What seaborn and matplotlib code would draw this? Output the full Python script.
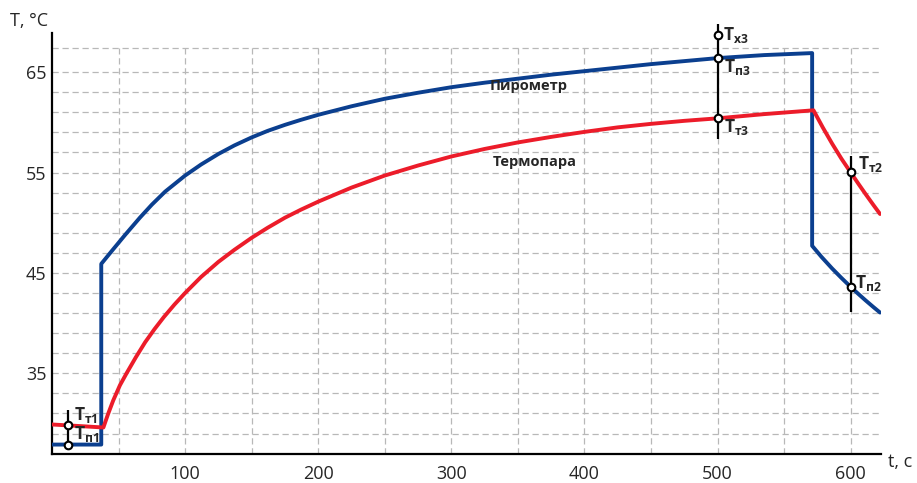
"""
График нагрева: пирометр и термопара, с контрольными точками.
"""
import matplotlib
matplotlib.use("Agg")
import matplotlib.pyplot as plt
import pandas as pd
import seaborn as sns

# Пирометр (синяя кривая)
pyro_t = [0, 37, 37, 45, 55, 66, 75, 85, 100, 112, 125, 137, 150, 162, 175,
          187, 200, 225, 250, 275, 300, 325, 350, 375, 400, 425, 450, 475,
          500, 535, 571, 571, 578, 586, 593, 600, 606, 611, 617, 622]
pyro_T = [27.9, 27.9, 45.9, 47.2, 48.8, 50.5, 51.8, 53.1, 54.7, 55.8, 56.85,
          57.7, 58.5, 59.15, 59.75, 60.25, 60.75, 61.6, 62.35, 62.95, 63.5,
          63.95, 64.35, 64.75, 65.1, 65.45, 65.8, 66.1, 66.4, 66.7, 66.9,
          47.7, 46.6, 45.44, 44.5, 43.6, 42.87, 42.28, 41.6, 41.05]

# Термопара (красная кривая)
thermo_t = [0, 20, 38.6, 42, 46, 51, 56, 63, 70, 77, 84, 92, 100, 112, 125,
            137, 150, 162, 175, 187, 200, 225, 250, 275, 300, 325, 350, 375,
            400, 425, 450, 475, 500, 535, 572, 579, 586, 593, 600, 606, 611,
            617, 622]
thermo_T = [29.9, 29.75, 29.6, 30.9, 32.3, 33.8, 35.0, 36.6, 38.1, 39.4,
            40.6, 41.85, 43.0, 44.6, 46.1, 47.3, 48.5, 49.5, 50.5, 51.3,
            52.1, 53.5, 54.7, 55.7, 56.6, 57.35, 58.0, 58.55, 59.05, 59.5,
            59.85, 60.15, 60.4, 60.82, 61.2, 59.49, 57.88, 56.38, 55.0,
            53.83, 52.88, 51.77, 50.87]

x_ticks = [100, 200, 300, 400, 500, 600]
y_ticks = [35, 45, 55, 65]
grid_x = list(range(50, 601, 50))
grid_y = list(range(29, 66, 2)) + [67.4]

# Вертикальные отрезки замеров: t, T от, T до
marks_t = [12, 500, 600]
marks_lo = [27.4, 58.3, 41.1]
marks_hi = [31.3, 69.8, 56.6]

# Контрольные точки
points_t = [12, 12, 500, 500, 500, 600, 600]
points_T = [29.85, 27.86, 68.7, 66.4, 60.4, 55.1, 43.6]
points_sub = ["т1", "п1", "х3", "п3", "т3", "т2", "п2"]
# смещения подписей в пикселях
points_off = [(6, 10), (6, 11), (5, 0), (6, -9), (6, -9), (7, 8), (4, 4)]

BLUE = "#0b3f8f"
RED = "#ec1c2a"

sns.set_style("white")
plt.rcParams["font.family"] = ["Open Sans", "DejaVu Sans"]
plt.rcParams["mathtext.fontset"] = "custom"
plt.rcParams["mathtext.bf"] = "Open Sans:bold"
plt.rcParams["mathtext.rm"] = "Open Sans"

fig = plt.figure(figsize=(9.17, 4.83), dpi=100)
ax = fig.add_axes([52 / 917, 1 - 453.6 / 483, (880.7 - 52) / 917, (453.6 - 33) / 483])

ax.set_xlim(0, 622.5)
ax.set_ylim(27, 68.9)

# сетка
ax.hlines(grid_y, 0, 622.5, colors="#b8b8b8", linestyles=(0, (5, 3)), linewidth=0.9, zorder=1)
ax.vlines(grid_x, 27, 67.4, colors="#b8b8b8", linestyles=(0, (5, 3)), linewidth=0.9, zorder=1)

pyro = pd.DataFrame({"t": pyro_t, "T": pyro_T})
thermo = pd.DataFrame({"t": thermo_t, "T": thermo_T})
sns.lineplot(data=pyro, x="t", y="T", sort=False, estimator=None, color=BLUE,
             linewidth=2.8, ax=ax, zorder=3)
sns.lineplot(data=thermo, x="t", y="T", sort=False, estimator=None, color=RED,
             linewidth=2.8, ax=ax, zorder=3)

ax.vlines(marks_t, marks_lo, marks_hi, colors="black", linewidth=1.6, zorder=4, clip_on=False)

pts = pd.DataFrame({"t": points_t, "T": points_T})
sns.scatterplot(data=pts, x="t", y="T", s=30, color="white", edgecolor="black",
                linewidth=1.5, ax=ax, zorder=5, clip_on=False)

for t, T, sub, off in zip(points_t, points_T, points_sub, points_off):
    ax.annotate(r"$\mathbf{T}_{\mathbf{" + sub + "}}$", (t, T), xytext=off,
                textcoords="offset pixels", fontsize=12.5, ha="left", va="center",
                zorder=6, annotation_clip=False)

ax.text(358, 63.6, "Пирометр", fontsize=10.5, fontweight="bold", ha="center", va="center")
ax.text(363, 56.0, "Термопара", fontsize=10.5, fontweight="bold", ha="center", va="center")

ax.set_xticks(x_ticks)
ax.set_yticks(y_ticks)
ax.tick_params(length=0, labelsize=13)
ax.tick_params(axis="x", pad=8)
ax.tick_params(axis="y", pad=4)
ax.set_xlabel("")
ax.set_ylabel("")

for side in ["top", "right"]:
    ax.spines[side].set_visible(False)
for side in ["left", "bottom"]:
    ax.spines[side].set_color("black")
    ax.spines[side].set_linewidth(1.6)

fig.text(48 / 917, 1 - 21 / 483, "T, °C", fontsize=13, ha="right", va="center")
fig.text(888 / 917, 1 - 462 / 483, "t, с", fontsize=13, ha="left", va="center")

fig.savefig("out.png", dpi=100)
